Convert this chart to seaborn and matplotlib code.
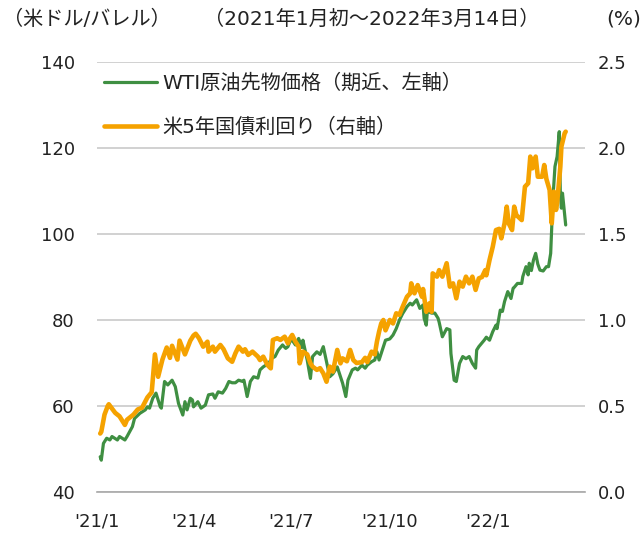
"""
WTI原油先物価格と米5年国債利回りの推移（2021年1月初～2022年3月14日）
"""

import pandas as pd
import matplotlib
matplotlib.use('Agg')
import matplotlib.pyplot as plt
import seaborn as sns

# =============================================================================
# DONNÉES
# =============================================================================

wti_dates = [
    '2021-01-04', '2021-01-05', '2021-01-07', '2021-01-10', '2021-01-13', '2021-01-15',
    '2021-01-20', '2021-01-22', '2021-01-27', '2021-01-29', '2021-02-03', '2021-02-05',
    '2021-02-10', '2021-02-15', '2021-02-17', '2021-02-19', '2021-02-22', '2021-02-25',
    '2021-03-01', '2021-03-02', '2021-03-05', '2021-03-08', '2021-03-12', '2021-03-15',
    '2021-03-18', '2021-03-22', '2021-03-24', '2021-03-26', '2021-03-29', '2021-03-31',
    '2021-04-01', '2021-04-05', '2021-04-08', '2021-04-12', '2021-04-15', '2021-04-19',
    '2021-04-21', '2021-04-24', '2021-04-28', '2021-05-01', '2021-05-04', '2021-05-07',
    '2021-05-10', '2021-05-13', '2021-05-17', '2021-05-18', '2021-05-21', '2021-05-24',
    '2021-05-27', '2021-05-31', '2021-06-02', '2021-06-05', '2021-06-10', '2021-06-13',
    '2021-06-16', '2021-06-19', '2021-06-23', '2021-06-26', '2021-06-28', '2021-06-30',
    '2021-07-02', '2021-07-05', '2021-07-08', '2021-07-11', '2021-07-12', '2021-07-16',
    '2021-07-19', '2021-07-21', '2021-07-25', '2021-07-28', '2021-07-31', '2021-08-03',
    '2021-08-06', '2021-08-09', '2021-08-13', '2021-08-16', '2021-08-18', '2021-08-21',
    '2021-08-23', '2021-08-27', '2021-08-30', '2021-09-01', '2021-09-05', '2021-09-08',
    '2021-09-10', '2021-09-14', '2021-09-17', '2021-09-19', '2021-09-21', '2021-09-24',
    '2021-09-27', '2021-10-01', '2021-10-04', '2021-10-07', '2021-10-10', '2021-10-13',
    '2021-10-17', '2021-10-20', '2021-10-22', '2021-10-26', '2021-10-29', '2021-11-01',
    '2021-11-02', '2021-11-04', '2021-11-05', '2021-11-09', '2021-11-12', '2021-11-15',
    '2021-11-16', '2021-11-19', '2021-11-23', '2021-11-26', '2021-11-27', '2021-11-30',
    '2021-12-02', '2021-12-05', '2021-12-08', '2021-12-11', '2021-12-14', '2021-12-17',
    '2021-12-20', '2021-12-21', '2021-12-23', '2021-12-28', '2021-12-30', '2022-01-02',
    '2022-01-05', '2022-01-08', '2022-01-09', '2022-01-12', '2022-01-14', '2022-01-16',
    '2022-01-19', '2022-01-22', '2022-01-24', '2022-01-25', '2022-01-28', '2022-02-01',
    '2022-02-02', '2022-02-05', '2022-02-07', '2022-02-08', '2022-02-10', '2022-02-12',
    '2022-02-14', '2022-02-16', '2022-02-18', '2022-02-21', '2022-02-24', '2022-02-26',
    '2022-02-28', '2022-03-01', '2022-03-02', '2022-03-04', '2022-03-06', '2022-03-08',
    '2022-03-09', '2022-03-10', '2022-03-11', '2022-03-14',
]
wti_values = [
    48.2, 47.4, 51.3, 52.5, 52.1, 52.9,
    52.1, 52.9, 52.1, 52.9, 55.2, 57.1,
    58.3, 59.1, 59.8, 59.5, 61.8, 63.0,
    59.8, 59.5, 65.7, 64.9, 66.0, 64.5,
    60.6, 57.9, 61.0, 59.1, 61.8, 61.4,
    59.8, 61.0, 59.5, 60.2, 62.6, 62.8,
    61.8, 63.3, 63.0, 64.1, 65.7, 65.4,
    65.4, 66.0, 65.7, 66.0, 62.2, 65.7,
    66.8, 66.5, 68.4, 69.1, 69.9, 71.1,
    71.5, 73.0, 74.2, 73.4, 73.8, 75.0,
    75.3, 74.2, 75.7, 73.6, 75.3, 70.7,
    66.4, 71.5, 72.6, 72.0, 73.8, 70.3,
    66.8, 67.5, 69.1, 66.8, 65.3, 62.2,
    66.0, 68.4, 68.8, 68.4, 69.5, 68.8,
    69.5, 70.3, 70.7, 72.6, 70.7, 73.0,
    75.3, 75.6, 76.5, 78.0, 80.0, 81.5,
    83.1, 83.9, 83.5, 84.7, 82.7, 83.5,
    80.4, 78.8, 82.0, 81.6, 81.6, 80.4,
    79.5, 76.1, 78.0, 77.7, 72.2, 66.0,
    65.7, 69.9, 71.5, 71.0, 71.5, 69.9,
    68.8, 73.0, 73.8, 75.3, 76.0, 75.3,
    77.3, 78.8, 78.0, 82.3, 82.0, 84.3,
    86.6, 85.0, 87.4, 87.6, 88.5, 88.5,
    90.1, 92.4, 90.5, 93.2, 91.5, 94.0,
    95.5, 93.0, 91.6, 91.4, 92.4, 92.4,
    95.5, 101.7, 107.9, 115.7, 118.0, 123.8,
    109.5, 106.0, 109.5, 102.1,
]

yield_dates = [
    '2021-01-04', '2021-01-05', '2021-01-08', '2021-01-11', '2021-01-12', '2021-01-18',
    '2021-01-22', '2021-01-27', '2021-01-29', '2021-02-04', '2021-02-08', '2021-02-12',
    '2021-02-17', '2021-02-21', '2021-02-24', '2021-02-27', '2021-03-03', '2021-03-07',
    '2021-03-10', '2021-03-12', '2021-03-17', '2021-03-19', '2021-03-24', '2021-03-29',
    '2021-04-01', '2021-04-03', '2021-04-06', '2021-04-10', '2021-04-14', '2021-04-15',
    '2021-04-19', '2021-04-21', '2021-04-26', '2021-04-29', '2021-05-03', '2021-05-07',
    '2021-05-10', '2021-05-13', '2021-05-17', '2021-05-19', '2021-05-22', '2021-05-26',
    '2021-05-31', '2021-06-02', '2021-06-05', '2021-06-09', '2021-06-12', '2021-06-14',
    '2021-06-18', '2021-06-21', '2021-06-25', '2021-06-28', '2021-06-30', '2021-07-02',
    '2021-07-05', '2021-07-08', '2021-07-09', '2021-07-12', '2021-07-16', '2021-07-19',
    '2021-07-21', '2021-07-25', '2021-07-28', '2021-07-31', '2021-08-03', '2021-08-06',
    '2021-08-09', '2021-08-13', '2021-08-16', '2021-08-18', '2021-08-22', '2021-08-25',
    '2021-08-28', '2021-08-31', '2021-09-05', '2021-09-08', '2021-09-10', '2021-09-14',
    '2021-09-17', '2021-09-19', '2021-09-21', '2021-09-23', '2021-09-25', '2021-09-27',
    '2021-10-01', '2021-10-04', '2021-10-07', '2021-10-10', '2021-10-13', '2021-10-17',
    '2021-10-20', '2021-10-21', '2021-10-24', '2021-10-27', '2021-10-31', '2021-11-01',
    '2021-11-04', '2021-11-07', '2021-11-09', '2021-11-10', '2021-11-14', '2021-11-16',
    '2021-11-19', '2021-11-23', '2021-11-26', '2021-11-29', '2021-12-02', '2021-12-05',
    '2021-12-08', '2021-12-11', '2021-12-14', '2021-12-17', '2021-12-20', '2021-12-23',
    '2021-12-26', '2021-12-29', '2021-12-30', '2022-01-02', '2022-01-05', '2022-01-08',
    '2022-01-11', '2022-01-13', '2022-01-16', '2022-01-18', '2022-01-20', '2022-01-23',
    '2022-01-25', '2022-01-27', '2022-02-01', '2022-02-04', '2022-02-07', '2022-02-09',
    '2022-02-11', '2022-02-14', '2022-02-16', '2022-02-20', '2022-02-22', '2022-02-24',
    '2022-02-27', '2022-03-01', '2022-03-03', '2022-03-05', '2022-03-06', '2022-03-09',
    '2022-03-10', '2022-03-13', '2022-03-14',
]
yield_values = [
    0.34, 0.35, 0.45, 0.50, 0.51, 0.46,
    0.44, 0.39, 0.42, 0.45, 0.48, 0.49,
    0.55, 0.58, 0.80, 0.67, 0.77, 0.84,
    0.78, 0.85, 0.77, 0.88, 0.80, 0.88,
    0.91, 0.92, 0.895, 0.845, 0.874, 0.816,
    0.845, 0.816, 0.855, 0.83, 0.777, 0.757,
    0.806, 0.845, 0.816, 0.83, 0.797, 0.816,
    0.787, 0.767, 0.787, 0.738, 0.719, 0.884,
    0.894, 0.884, 0.903, 0.864, 0.894, 0.913,
    0.874, 0.845, 0.748, 0.816, 0.80, 0.748,
    0.729, 0.71, 0.72, 0.69, 0.641, 0.729,
    0.70, 0.826, 0.748, 0.777, 0.76, 0.826,
    0.767, 0.75, 0.755, 0.78, 0.755, 0.816,
    0.80, 0.874, 0.932, 0.98, 1.0, 0.94,
    1.0, 0.98, 1.039, 1.03, 1.077, 1.135,
    1.155, 1.213, 1.155, 1.203, 1.135, 1.18,
    1.048, 1.097, 1.048, 1.271, 1.252, 1.29,
    1.252, 1.33, 1.194, 1.213, 1.126, 1.223,
    1.194, 1.252, 1.213, 1.252, 1.175, 1.242,
    1.25, 1.29, 1.26, 1.349, 1.426, 1.523,
    1.53, 1.475, 1.562, 1.659, 1.56, 1.523,
    1.659, 1.61, 1.581, 1.775, 1.795, 1.95,
    1.882, 1.95, 1.833, 1.833, 1.901, 1.82,
    1.756, 1.562, 1.746, 1.64, 1.68, 1.891,
    2.008, 2.085, 2.095,
]

x_ticks = ['2021-01-01', '2021-04-01', '2021-07-01', '2021-10-01', '2022-01-01', '2022-04-01']
x_tick_labels = ["'21/1", "'21/4", "'21/7", "'21/10", "'22/1", ""]
left_ticks = [40, 60, 80, 100, 120, 140]
right_ticks = [0.0, 0.5, 1.0, 1.5, 2.0, 2.5]

wti_label = 'WTI原油先物価格（期近、左軸）'
yield_label = '米5年国債利回り（右軸）'

# =============================================================================
# STYLE
# =============================================================================

sns.set_style('white')
plt.rcParams['font.family'] = ['DejaVu Sans', 'Noto Sans CJK JP']

GREEN = '#3f8f42'
ORANGE = '#f5a200'
GRID = '#c9c9c9'
TEXT = '#222222'
FS = 13      # graduations
FS_TXT = 14.5  # en-têtes et légende

# =============================================================================
# FIGURE
# =============================================================================

fig = plt.figure(figsize=(6.43, 5.33), dpi=100)
ax = fig.add_axes([97 / 643, 1 - 492 / 533, 488 / 643, 430 / 533])

wti = pd.DataFrame({'date': pd.to_datetime(wti_dates), 'value': wti_values})
yld = pd.DataFrame({'date': pd.to_datetime(yield_dates), 'value': yield_values})

sns.lineplot(data=wti, x='date', y='value', ax=ax, color=GREEN, lw=2.3,
             estimator=None, label=wti_label, legend=False)
ax.set_ylim(40, 140)
ax.set_yticks(left_ticks)
ax.set_xlim(pd.Timestamp(x_ticks[0]), pd.Timestamp(x_ticks[-1]))
ax.set_xticks(pd.to_datetime(x_ticks))
ax.set_xticklabels(x_tick_labels)
ax.set_xlabel('')
ax.set_ylabel('')
ax.yaxis.grid(True, color=GRID, lw=1.2)
ax.set_axisbelow(True)
for s in ['left', 'right', 'top']:
    ax.spines[s].set_visible(False)
ax.spines['bottom'].set_color('#a8a8a8')
ax.spines['bottom'].set_linewidth(1.2)
ax.tick_params(axis='x', colors='#a8a8a8', length=6, width=1, pad=9,
               labelsize=FS, labelcolor=TEXT)
ax.tick_params(axis='y', length=0, pad=16, labelsize=FS, labelcolor=TEXT)

ax2 = ax.twinx()
sns.lineplot(data=yld, x='date', y='value', ax=ax2, color=ORANGE, lw=3.3,
             estimator=None, label=yield_label, legend=False)
ax2.set_ylim(0, 2.5)
ax2.set_yticks(right_ticks)
ax2.set_yticklabels([f'{v:.1f}' for v in right_ticks])
ax2.set_ylabel('')
ax2.grid(False)
for s in ax2.spines.values():
    s.set_visible(False)
ax2.tick_params(axis='y', length=0, pad=9, labelsize=FS, labelcolor=TEXT)

# Légende
handles = ax.get_lines()[:1] + ax2.get_lines()[:1]
ax2.legend(handles, [wti_label, yield_label], loc='upper left',
           bbox_to_anchor=(0.015, 0.974), frameon=False, fontsize=FS_TXT,
           handlelength=2.6, handletextpad=0.3, labelspacing=1.23,
           borderpad=0, borderaxespad=0, labelcolor=TEXT)

# En-têtes
fig.text(3 / 643, 1 - 19 / 533, '（米ドル/バレル）', fontsize=FS_TXT, color=TEXT,
         ha='left', va='center')
fig.text(372 / 643, 1 - 19 / 533, '（2021年1月初～2022年3月14日）', fontsize=FS_TXT,
         color=TEXT, ha='center', va='center')
fig.text(641 / 643, 1 - 19 / 533, '(%)', fontsize=FS_TXT, color=TEXT,
         ha='right', va='center')

fig.savefig('out.png', dpi=100)
